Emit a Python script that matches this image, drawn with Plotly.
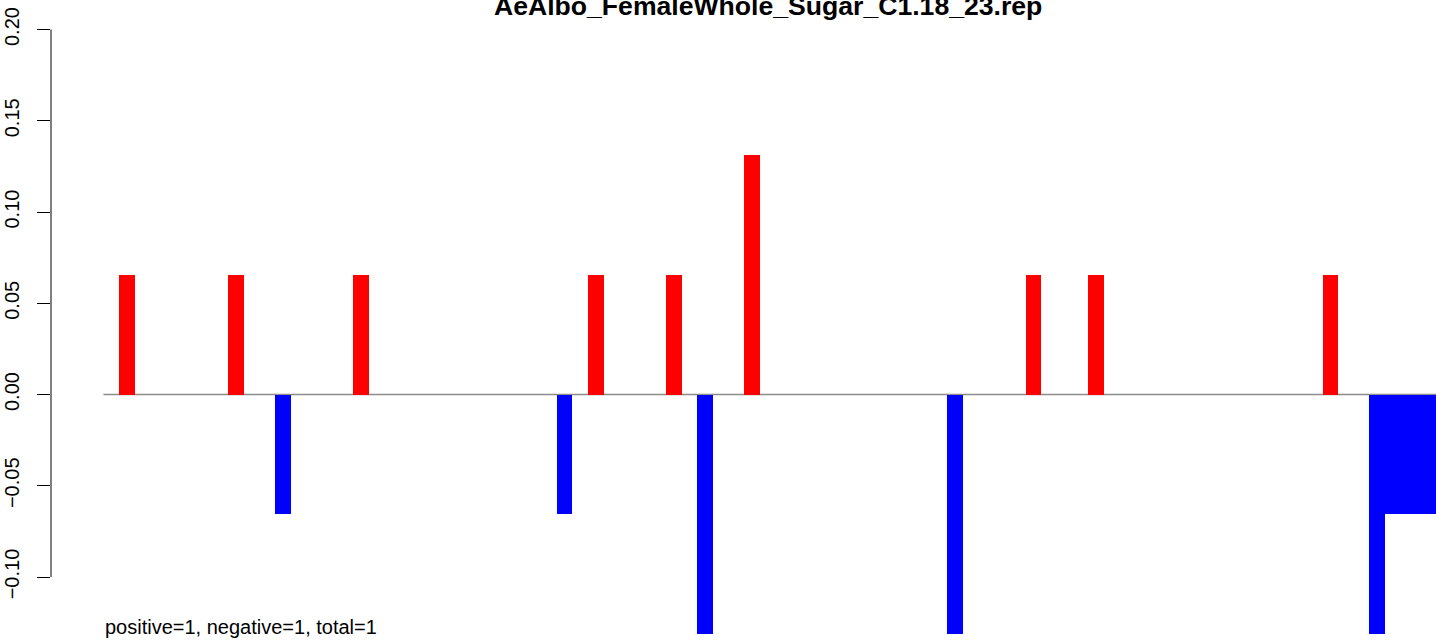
import plotly.graph_objects as go

# bar slots (1-based, R barplot style, space = 0) and heights
pos_slots = [2, 9, 17, 32, 37, 42, 60, 64, 79]
pos_values = [0.0655, 0.0655, 0.0655, 0.0655, 0.0655, 0.131, 0.0655, 0.0655, 0.0655]

neg_slots = [12, 30, 39, 55, 82, 83, 84, 85, 86]
neg_values = [-0.0655, -0.0655, -0.131, -0.131, -0.131, -0.0655, -0.0655, -0.0655, -0.0655]

ytick_vals = [-0.10, -0.05, 0.00, 0.05, 0.10, 0.15, 0.20]
ytick_text = ["\u22120.10", "\u22120.05", "0.00", "0.05", "0.10", "0.15", "0.20"]

title = "AeAlbo_FemaleWhole_Sugar_C1.18_23.rep"
note = "positive=1, negative=1, total=1"

FONT = "Liberation Sans, Arial, Helvetica, sans-serif"

fig = go.Figure()
# slot s covers [s-1, s] on the x axis
fig.add_trace(go.Bar(x=[s - 0.5 for s in pos_slots], y=pos_values, width=1,
                     marker=dict(color="#FF0000", line=dict(width=0))))
fig.add_trace(go.Bar(x=[s - 0.5 for s in neg_slots], y=neg_values, width=1,
                     marker=dict(color="#0000FF", line=dict(width=0))))

# zero line, starts at the left edge of the first slot
fig.add_shape(type="line", xref="x", yref="y", x0=0, x1=95, y0=0, y1=0,
              line=dict(color="#8c8c8c", width=1.5), layer="below")
# R style y axis line, only between the outer ticks
fig.add_shape(type="line", xref="paper", yref="y", x0=0, x1=0, y0=-0.1, y1=0.2,
              line=dict(color="black", width=1))

fig.add_annotation(text="<b>" + title + "</b>", xref="paper", yref="paper",
                   x=0.5177, y=0.9906, xanchor="center", yanchor="middle",
                   showarrow=False, font=dict(family=FONT, size=26.6, color="black"))
fig.add_annotation(text=note, xref="x", yref="paper", x=0, y=0.0,
                   xanchor="left", yanchor="bottom", showarrow=False,
                   font=dict(family=FONT, size=20, color="black"))

fig.update_layout(
    width=1436, height=640,
    margin=dict(l=51, r=0, t=0, b=0, autoexpand=False),
    plot_bgcolor="white", paper_bgcolor="white",
    showlegend=False, barmode="overlay", bargap=0,
    font=dict(family=FONT, color="black"),
)
fig.update_xaxes(range=[-3.353, 85.26], visible=False, automargin=False)
fig.update_yaxes(range=[-0.1345, 0.2162], tickvals=ytick_vals, ticktext=ytick_text,
                 ticks="outside", ticklen=13, tickcolor="black", tickwidth=1,
                 tickangle=-90, tickfont=dict(size=20, family=FONT, color="black"),
                 ticklabelstandoff=10, automargin=False,
                 showgrid=False, zeroline=False, showline=False)

# drop the browser's default page margin so the figure sits at (0, 0)
fig.write_html("out.html", config={"displayModeBar": False},
               post_script="document.body.style.margin='0';document.body.style.overflow='hidden';")
